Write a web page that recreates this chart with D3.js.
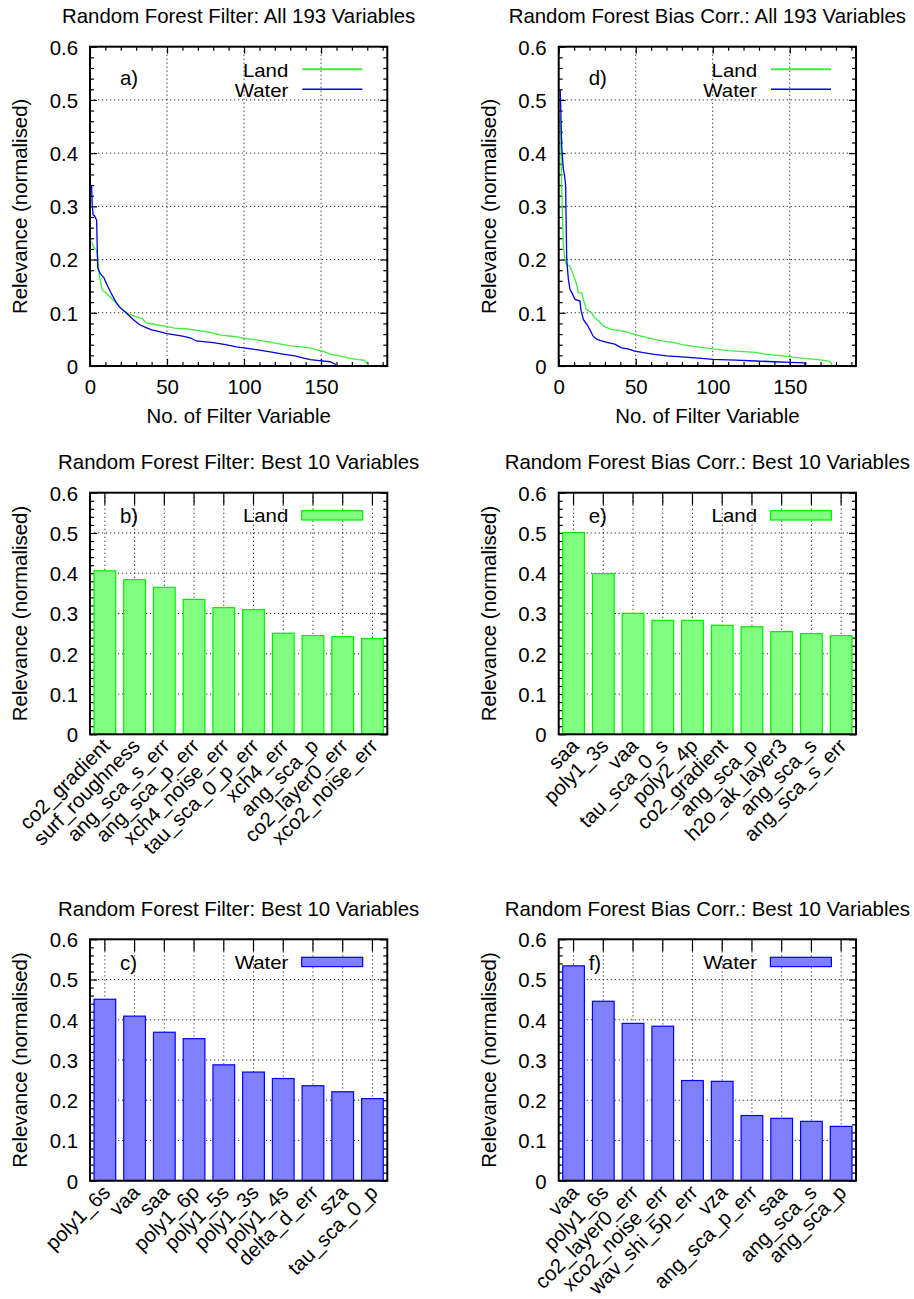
<!DOCTYPE html>
<html>
<head>
<meta charset="utf-8">
<script src="https://cdn.jsdelivr.net/npm/d3@7"></script>
<style>
  body { margin: 0; background: #fff; }
  svg text { font-family: "Liberation Sans", Arial, Helvetica, sans-serif; fill: #000; }
</style>
</head>
<body>
<svg id="fig" width="914" height="1299"></svg>
<script>
// ---- Relevance curves over all 193 variables: [variable no., relevance] ----
const filterLand = [[1,0.234],[2,0.226],[3,0.221],[4.3,0.218],[5,0.205],[6,0.172],[7,0.155],[8,0.143],[10,0.138],[12.6,0.131],[15,0.124],[17,0.119],[21,0.106],[25.5,0.097],[30,0.093],[34,0.089],[36.5,0.081],[43,0.0775],[50,0.074],[55,0.071],[62,0.070],[70,0.067],[78,0.063],[85,0.058],[95,0.055],[100,0.052],[108,0.049],[115,0.046],[122,0.042],[130,0.038],[137,0.036],[143,0.034],[148,0.030],[152,0.027],[156,0.022],[162,0.019],[169,0.0144],[174,0.012],[178,0.011],[180,0.004],[180.5,0]];
const filterWater = [[1,0.340],[1.5,0.30],[2,0.284],[3,0.282],[4.3,0.274],[5,0.185],[5.5,0.181],[7,0.172],[9,0.166],[11.5,0.150],[13.6,0.1375],[17,0.119],[19,0.111],[23.4,0.100],[26,0.093],[28,0.0875],[32,0.078],[36.4,0.072],[40,0.068],[43,0.066],[50,0.061],[60,0.056],[65,0.053],[69,0.047],[80,0.044],[88,0.040],[95,0.036],[100,0.034],[110,0.030],[118,0.026],[125,0.0225],[133,0.019],[140,0.014],[143,0.012],[149,0.010],[155.8,0.008],[159,0.004],[159.5,0]];
const biasLand = [[1,0.47],[2,0.33],[3,0.23],[4,0.200],[5.2,0.19],[7.3,0.1875],[9,0.175],[10.6,0.1625],[12,0.150],[12.7,0.1375],[14.9,0.1375],[16,0.125],[18,0.106],[21.3,0.100],[23.5,0.090],[26,0.085],[29,0.075],[34,0.069],[40.7,0.066],[45,0.063],[49.4,0.059],[55,0.055],[62,0.050],[70,0.046],[75,0.044],[80,0.040],[90,0.036],[100,0.032],[110,0.029],[120,0.027],[128,0.0257],[135,0.022],[142,0.020],[150,0.0175],[160,0.014],[167,0.0125],[175.6,0.0094],[177,0.005],[177.2,0]];
const biasWater = [[1,0.519],[2,0.41],[3,0.37],[3.7,0.36],[4.5,0.34],[5.2,0.20],[6.3,0.1625],[7.3,0.144],[9,0.135],[10.6,0.125],[13.8,0.122],[14.4,0.106],[16,0.0875],[19,0.075],[22.4,0.056],[25,0.050],[27.8,0.047],[32,0.044],[36.4,0.041],[40.7,0.034],[45,0.032],[49.4,0.028],[55,0.025],[62,0.022],[70,0.019],[80,0.017],[94.6,0.014],[100,0.0125],[115,0.011],[128,0.0094],[140,0.008],[150,0.007],[159.5,0.006],[160,0]];

// ---- Best 10 variables ----
const filterLandVars = ["co2_gradient","surf_roughness","ang_sca_s_err","ang_sca_p_err","xch4_noise_err","tau_sca_0_p_err","xch4_err","ang_sca_p","co2_layer0_err","xco2_noise_err"];
const filterLandVals = [0.406,0.384,0.365,0.335,0.3145,0.3095,0.251,0.245,0.2425,0.238];
const biasLandVars = ["saa","poly1_3s","vaa","tau_sca_0_s","poly2_4p","co2_gradient","ang_sca_p","h2o_ak_layer3","ang_sca_s","ang_sca_s_err"];
const biasLandVals = [0.501,0.399,0.3005,0.283,0.283,0.2707,0.267,0.255,0.250,0.245];
const filterWaterVars = ["poly1_6s","vaa","saa","poly1_6p","poly1_5s","poly1_3s","poly1_4s","delta_d_err","sza","tau_sca_0_p"];
const filterWaterVals = [0.451,0.409,0.369,0.353,0.288,0.270,0.254,0.236,0.221,0.204];
const biasWaterVars = ["vaa","poly1_6s","co2_layer0_err","xco2_noise_err","wav_shi_5p_err","vza","ang_sca_p_err","saa","ang_sca_s","ang_sca_p"];
const biasWaterVals = [0.534,0.446,0.391,0.384,0.249,0.247,0.162,0.155,0.1475,0.135];

// ---- Axis ticks ----
const yMajor = [0, 0.1, 0.2, 0.3, 0.4, 0.5, 0.6];
const yMinor = d3.range(0, 31).map(i => i * 0.02).filter(v => Math.abs(v * 10 - Math.round(v * 10)) > 1e-6);
const xMajor = [0, 50, 100, 150];
const xMinor = d3.range(10, 200, 10).filter(v => v % 50 !== 0);
const seriesNames = ["Land", "Water"];

const LAND_LINE = "#3cef3c", WATER_LINE = "#0000e0";
const LAND_FILL = "#80ff80", LAND_EDGE = "#00ee00";
const WATER_FILL = "#8080ff", WATER_EDGE = "#0000ff";
const FS = 20.4;
// key entries sit close together, so their glyphs are a little narrower in height
const KEY_FS = 17.9, KEY_STRETCH = 1.14;

const svg = d3.select("#fig");
svg.append("rect").attr("width", 914).attr("height", 1299).attr("fill", "#fff");

const colX = [90, 558.7];
const W = 297.3;

function keyText(g, x, y, label) {
  g.append("text").attr("transform", `translate(${x},${y}) scale(${KEY_STRETCH},1)`)
    .attr("text-anchor", "end").attr("font-size", KEY_FS).text(label);
}

function yLabelAndTitle(g, h, w, title) {
  g.append("text").attr("x", w / 2).attr("y", -23.5).attr("text-anchor", "middle")
    .attr("font-size", FS).text(title);
  g.append("text").attr("transform", `translate(-63,${h / 2}) rotate(-90)`)
    .attr("text-anchor", "middle").attr("font-size", FS).text("Relevance (normalised)");
}

function gridStyle(sel) {
  sel.attr("stroke", "#000").attr("stroke-width", 1).attr("stroke-dasharray", "1.2,2.8").attr("opacity", 0.85);
}

function yAxes(g, y, w) {
  const left = g.append("g").call(d3.axisLeft(y).tickValues(yMajor).tickSize(-7).tickPadding(12).tickFormat(d3.format("~g")));
  left.select(".domain").remove();
  left.selectAll("text").attr("font-size", FS).attr("font-family", null).attr("dy", "0.36em");
  const leftMin = g.append("g").call(d3.axisLeft(y).tickValues(yMinor).tickSize(-4).tickFormat(""));
  leftMin.select(".domain").remove();
  const right = g.append("g").attr("transform", `translate(${w},0)`)
    .call(d3.axisRight(y).tickValues(yMajor).tickSize(-7).tickFormat(""));
  right.select(".domain").remove();
  const rightMin = g.append("g").attr("transform", `translate(${w},0)`)
    .call(d3.axisRight(y).tickValues(yMinor).tickSize(-4).tickFormat(""));
  rightMin.select(".domain").remove();
  g.selectAll(".tick line").attr("stroke", "#000").attr("stroke-width", 1.2);
}

function frame(g, w, h) {
  g.append("rect").attr("width", w).attr("height", h).attr("fill", "none")
    .attr("stroke", "#000").attr("stroke-width", 2);
}

function linePanel(px, py, h, title, tag, land, water) {
  const g = svg.append("g").attr("transform", `translate(${px},${py})`);
  const x = d3.scaleLinear().domain([0, 193]).range([0, W]);
  const y = d3.scaleLinear().domain([0, 0.6]).range([h, 0]);

  // dotted grid
  gridStyle(g.append("g").selectAll("line").data(xMajor.slice(1)).join("line")
    .attr("x1", d => x(d)).attr("x2", d => x(d)).attr("y1", 0).attr("y2", h));
  gridStyle(g.append("g").selectAll("line").data(yMajor.slice(1, -1)).join("line")
    .attr("x1", 0).attr("x2", W).attr("y1", d => y(d)).attr("y2", d => y(d)));

  yAxes(g, y, W);
  const bottom = g.append("g").attr("transform", `translate(0,${h})`)
    .call(d3.axisBottom(x).tickValues(xMajor).tickSize(-7).tickPadding(14));
  bottom.select(".domain").remove();
  bottom.selectAll("text").attr("font-size", FS).attr("font-family", null);
  const bottomMin = g.append("g").attr("transform", `translate(0,${h})`)
    .call(d3.axisBottom(x).tickValues(xMinor).tickSize(-4).tickFormat(""));
  bottomMin.select(".domain").remove();
  const top = g.append("g").call(d3.axisTop(x).tickValues(xMajor).tickSize(-7).tickFormat(""));
  top.select(".domain").remove();
  const topMin = g.append("g").call(d3.axisTop(x).tickValues(xMinor).tickSize(-4).tickFormat(""));
  topMin.select(".domain").remove();
  g.selectAll(".tick line").attr("stroke", "#000").attr("stroke-width", 1.2);

  const line = d3.line().x(d => x(d[0])).y(d => y(d[1]));
  g.append("path").datum(land).attr("d", line).attr("fill", "none")
    .attr("stroke", LAND_LINE).attr("stroke-width", 1.3);
  g.append("path").datum(water).attr("d", line).attr("fill", "none")
    .attr("stroke", WATER_LINE).attr("stroke-width", 1.3);

  // key
  const colors = [LAND_LINE, WATER_LINE];
  seriesNames.forEach((name, i) => {
    keyText(g, W - 99, 30 + 20 * i, name);
    g.append("line").attr("x1", W - 85).attr("x2", W - 25)
      .attr("y1", 22.6 + 20 * i).attr("y2", 22.6 + 20 * i)
      .attr("stroke", colors[i]).attr("stroke-width", i === 0 ? 2 : 1.5);
  });
  g.append("text").attr("x", 30).attr("y", 38).attr("font-size", FS).text(tag);

  frame(g, W, h);
  yLabelAndTitle(g, h, W, title);
  g.append("text").attr("x", W / 2).attr("y", h + 57).attr("text-anchor", "middle")
    .attr("font-size", FS).text("No. of Filter Variable");
}

function barPanel(px, py, h, title, tag, name, vars, vals, fill, edge) {
  const g = svg.append("g").attr("transform", `translate(${px},${py})`);
  const x = d3.scaleBand().domain(vars).range([0, W]).paddingInner(0.27).paddingOuter(0.135);
  const y = d3.scaleLinear().domain([0, 0.6]).range([h, 0]);

  gridStyle(g.append("g").selectAll("line").data(vars).join("line")
    .attr("x1", d => x(d) + x.bandwidth() / 2).attr("x2", d => x(d) + x.bandwidth() / 2)
    .attr("y1", 0).attr("y2", h));
  gridStyle(g.append("g").selectAll("line").data(yMajor.slice(1, -1)).join("line")
    .attr("x1", 0).attr("x2", W).attr("y1", d => y(d)).attr("y2", d => y(d)));

  yAxes(g, y, W);
  const top = g.append("g").call(d3.axisTop(x).tickSize(-12).tickFormat(""));
  top.select(".domain").remove();
  const bottom = g.append("g").attr("transform", `translate(0,${h})`)
    .call(d3.axisBottom(x).tickSize(-12));
  bottom.select(".domain").remove();
  bottom.selectAll("text").attr("font-size", FS).attr("font-family", null)
    .attr("text-anchor", "end").attr("x", 6.5).attr("y", 13).attr("dy", 0)
    .attr("transform", "rotate(-45,6.5,13)");
  g.selectAll(".tick line").attr("stroke", "#000").attr("stroke-width", 1.2);

  g.append("g").selectAll("rect").data(vars).join("rect")
    .attr("x", d => x(d)).attr("width", x.bandwidth())
    .attr("y", (d, i) => y(vals[i])).attr("height", (d, i) => h - y(vals[i]))
    .attr("fill", fill).attr("stroke", edge).attr("stroke-width", 1.2);

  keyText(g, W - 99, 29.3, name);
  g.append("rect").attr("x", W - 85.6).attr("y", 18).attr("width", 61).attr("height", 9.3)
    .attr("fill", fill).attr("stroke", edge).attr("stroke-width", 1.2);
  g.append("text").attr("x", 30).attr("y", 30.5).attr("font-size", FS).text(tag);

  frame(g, W, h);
  yLabelAndTitle(g, h, W, title);
}

linePanel(colX[0], 46.7, 319.3, "Random Forest Filter: All 193 Variables", "a)", filterLand, filterWater);
linePanel(colX[1], 46.7, 319.3, "Random Forest Bias Corr.: All 193 Variables", "d)", biasLand, biasWater);
barPanel(colX[0], 492.7, 241.6, "Random Forest Filter: Best 10 Variables", "b)", "Land", filterLandVars, filterLandVals, LAND_FILL, LAND_EDGE);
barPanel(colX[1], 492.7, 241.6, "Random Forest Bias Corr.: Best 10 Variables", "e)", "Land", biasLandVars, biasLandVals, LAND_FILL, LAND_EDGE);
barPanel(colX[0], 939.3, 241.4, "Random Forest Filter: Best 10 Variables", "c)", "Water", filterWaterVars, filterWaterVals, WATER_FILL, WATER_EDGE);
barPanel(colX[1], 939.3, 241.4, "Random Forest Bias Corr.: Best 10 Variables", "f)", "Water", biasWaterVars, biasWaterVals, WATER_FILL, WATER_EDGE);
</script>
</body>
</html>
